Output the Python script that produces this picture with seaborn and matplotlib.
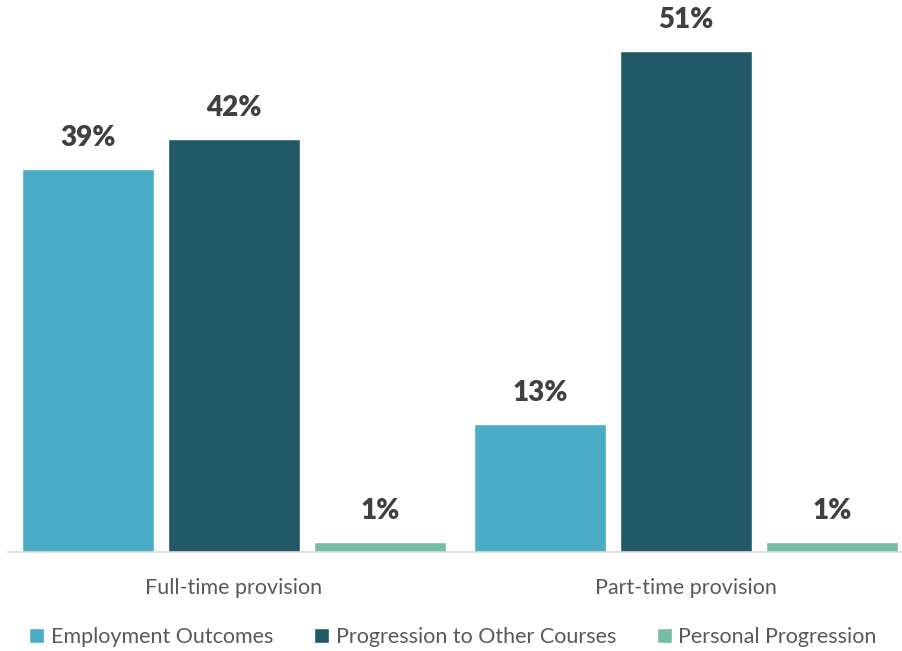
import matplotlib
matplotlib.use("Agg")
import matplotlib.pyplot as plt
import seaborn as sns
import pandas as pd

categories = ["Full-time provision", "Part-time provision"]
series = ["Employment Outcomes", "Progression to Other Courses", "Personal Progression"]
employment = [39, 13]
progression = [42, 51]
personal = [1, 1]
colors = ["#4BACC6", "#215967", "#75BDA7"]

rows = []
for name, vals in zip(series, [employment, progression, personal]):
    for cat, v in zip(categories, vals):
        rows.append({"category": cat, "series": name, "value": v})
df = pd.DataFrame(rows)

sns.set_theme(style="white")
plt.rcParams["font.family"] = ["Lato", "DejaVu Sans"]

W, H = 902, 651
fig = plt.figure(figsize=(W / 100, H / 100), dpi=100)
ax = fig.add_axes([8 / W, (H - 552) / H, (902 - 8) / W, 552 / H])

sns.barplot(data=df, x="category", y="value", hue="series", order=categories,
            hue_order=series, palette=colors, width=0.969, gap=0.096,
            saturation=1, ax=ax, legend=True)

ax.set_xlim(-0.5, 1.478)
ax.set_ylim(0, 56.2)
ax.set_xlabel("")
ax.set_ylabel("")
ax.set_yticks([])
for s in ["top", "right", "left"]:
    ax.spines[s].set_visible(False)
ax.spines["bottom"].set_color("#D9D9D9")
ax.spines["bottom"].set_linewidth(1.2)
ax.tick_params(axis="x", length=0, pad=19, labelsize=15.5, labelcolor="#595959")

for cont in ax.containers:
    ax.bar_label(cont, labels=[f"{v:.0f}%" for v in cont.datavalues],
                 padding=13, fontsize=20, fontweight="heavy", color="#404040")

handles, labels = ax.get_legend_handles_labels()
ax.legend_.remove()
fig.legend(handles, labels, loc="center", bbox_to_anchor=(453 / W, (H - 637) / H),
           ncol=3, frameon=False, fontsize=15.5, labelcolor="#595959",
           handlelength=0.7, handleheight=0.7, handletextpad=0.3,
           columnspacing=1.9)

fig.savefig("out.png", dpi=100)
